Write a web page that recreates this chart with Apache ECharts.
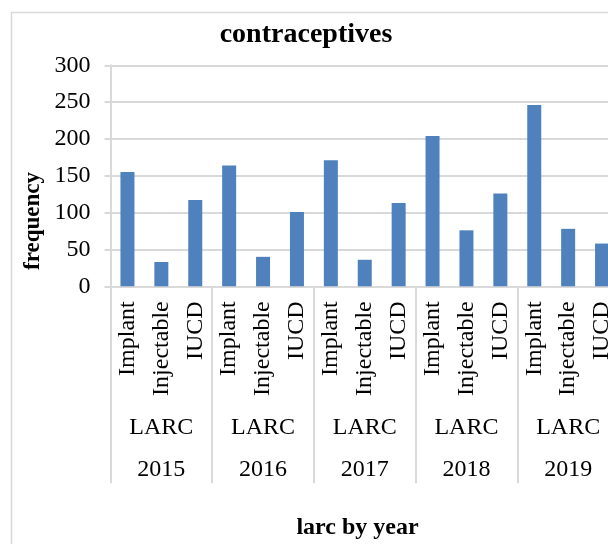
<!DOCTYPE html>
<html>
<head>
<meta charset="utf-8">
<script src="https://cdn.jsdelivr.net/npm/echarts@6/dist/echarts.min.js"></script>
<style>
  html, body { margin: 0; padding: 0; background: #fff; overflow: hidden; }
  #chart { width: 608px; height: 544px; }
</style>
</head>
<body>
<div id="chart"></div>
<script>
// ---- data ----
const years = ['2015', '2016', '2017', '2018', '2019'];
const groupLabel = 'LARC';
const methods = ['Implant', 'Injectable', 'IUCD'];
const implant = [155, 164, 171, 204, 246];
const injectable = [33, 40, 36, 76, 78];
const iucd = [117, 101, 113, 126, 58];
const yTicks = { min: 0, max: 300, interval: 50 };
const titleText = 'contraceptives';
const yName = 'frequency';
const xName = 'larc by year';

// ---- build flat categories / values ----
const categories = [];
const values = [];
years.forEach((y, i) => {
  const vals = [implant[i], injectable[i], iucd[i]];
  methods.forEach((m, j) => {
    categories.push(m);
    values.push(vals[j]);
  });
});

const FONT = '"Liberation Serif", "Times New Roman", serif';
const GRID_COLOR = '#d9d9d9';

const chart = echarts.init(document.getElementById('chart'), null, { renderer: 'canvas' });

chart.setOption({
  animation: false,
  backgroundColor: '#ffffff',
  grid: {
    left: 110.5,
    top: 65.3,
    width: 508.5,
    height: 221,
    containLabel: false,
    outerBoundsMode: 'none'
  },
  xAxis: [
    {
      type: 'category',
      data: categories,
      position: 'bottom',
      axisLine: { show: true, lineStyle: { color: GRID_COLOR, width: 2 } },
      axisTick: { show: false },
      splitLine: { show: false },
      axisLabel: {
        interval: 0,
        rotate: 90,
        margin: 15,
        fontSize: 24,
        fontFamily: FONT,
        color: '#000'
      }
    },
    {
      type: 'category',
      data: years.map(() => groupLabel),
      position: 'bottom',
      axisLine: { show: false },
      axisTick: { show: false },
      splitLine: { show: false },
      axisLabel: {
        interval: 0,
        margin: 129,
        fontSize: 24,
        fontFamily: FONT,
        color: '#000'
      }
    },
    {
      type: 'category',
      data: years,
      position: 'bottom',
      axisLine: { show: false },
      axisTick: {
        show: true,
        interval: 0,
        alignWithLabel: false,
        length: 197,
        lineStyle: { color: GRID_COLOR, width: 2 }
      },
      splitLine: { show: false },
      axisLabel: {
        interval: 0,
        margin: 171,
        fontSize: 24,
        fontFamily: FONT,
        color: '#000'
      }
    }
  ],
  yAxis: {
    type: 'value',
    min: yTicks.min,
    max: yTicks.max,
    interval: yTicks.interval,
    axisLine: { show: true, lineStyle: { color: GRID_COLOR, width: 2 } },
    axisTick: { show: true, length: 6, lineStyle: { color: GRID_COLOR, width: 2 } },
    splitLine: { show: true, lineStyle: { color: GRID_COLOR, width: 2 } },
    axisLabel: {
      margin: 20,
      fontSize: 24,
      fontFamily: FONT,
      color: '#000'
    }
  },
  series: [
    {
      type: 'bar',
      xAxisIndex: 0,
      yAxisIndex: 0,
      data: values,
      barWidth: 14,
      itemStyle: { color: '#4f81bd' }
    }
  ],
  graphic: [
    {
      type: 'rect',
      silent: true,
      z: -1,
      shape: { x: 11.5, y: 12.5, width: 800, height: 800 },
      style: { fill: 'none', stroke: GRID_COLOR, lineWidth: 1.5 }
    },
    {
      type: 'text',
      silent: true,
      x: 306,
      y: 35,
      style: {
        text: titleText,
        font: 'bold 28px ' + FONT,
        fill: '#000',
        textAlign: 'center',
        textVerticalAlign: 'middle'
      }
    },
    {
      type: 'text',
      silent: true,
      x: 33,
      y: 221,
      rotation: Math.PI / 2,
      style: {
        text: yName,
        font: 'bold 23px ' + FONT,
        fill: '#000',
        textAlign: 'center',
        textVerticalAlign: 'middle'
      }
    },
    {
      type: 'text',
      silent: true,
      x: 357.5,
      y: 528,
      style: {
        text: xName,
        font: 'bold 24px ' + FONT,
        fill: '#000',
        textAlign: 'center',
        textVerticalAlign: 'middle'
      }
    }
  ]
});
</script>
</body>
</html>
